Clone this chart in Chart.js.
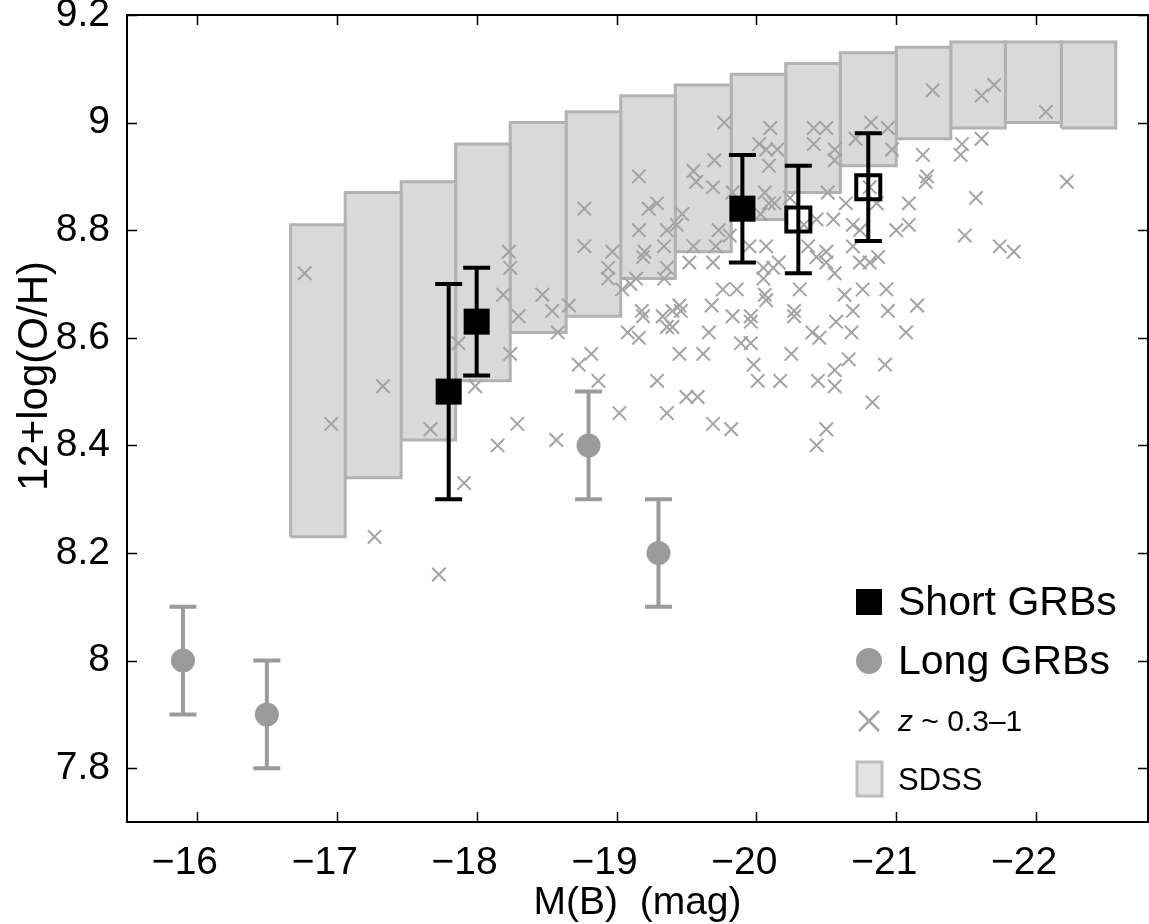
<!DOCTYPE html>
<html>
<head>
<meta charset="utf-8">
<script src="https://cdn.jsdelivr.net/npm/chart.js@4.4.1/dist/chart.umd.min.js"></script>
<style>
  html, body { margin: 0; padding: 0; background: #fff; }
  #wrap { width: 1149px; height: 924px; position: relative; }
</style>
</head>
<body>
<div id="wrap"><canvas id="metalChart"></canvas></div>
<script>
// ==========================================
// M(B) vs 12+log(O/H) — GRB hosts, z~0.3-1 galaxies, SDSS
// ==========================================

const FONT = "'Liberation Sans', Arial, sans-serif";

// axis ticks
const xTicks = [-22, -21, -20, -19, -18, -17, -16];
const yTicks = [7.8, 8, 8.2, 8.4, 8.6, 8.8, 9, 9.2];

// SDSS bins (magnitude edges and metallicity range)
const sdssLeft  = [-16.67, -17.06, -17.46, -17.85, -18.24, -18.64, -19.03, -19.42, -19.82, -20.21, -20.60, -21.00, -21.39, -21.78, -22.18];
const sdssRight = [-17.06, -17.46, -17.85, -18.24, -18.64, -19.03, -19.42, -19.82, -20.21, -20.60, -21.00, -21.39, -21.78, -22.18, -22.57];
const sdssLow   = [8.23, 8.34, 8.41, 8.52, 8.61, 8.64, 8.71, 8.76, 8.82, 8.87, 8.92, 8.97, 8.99, 9.00, 8.99];
const sdssHigh  = [8.81, 8.87, 8.89, 8.96, 9.00, 9.02, 9.05, 9.07, 9.09, 9.11, 9.13, 9.14, 9.15, 9.15, 9.15];

// z ~ 0.3-1 field galaxies
const zX = [
  -16.77, -18.23, -18.24, -18.19, -18.30, -18.47, -18.54, -18.66, -18.77, -18.77,
  -18.97, -18.94, -18.94, -19.04, -19.10, -19.16, -19.23, -19.29, -19.16, -19.20,
  -19.19, -19.36, -19.34, -19.43, -19.36, -19.34, -19.14, -19.18, -19.19, -19.33,
  -19.40, -19.36, -19.40, -19.45, -19.46,
  -16.96, -17.33, -17.67, -17.87, -17.99, -18.24, -17.91, -17.27, -17.73, -18.29,
  -18.15, -18.57, -18.58, -18.73, -18.82, -18.87, -19.02, -19.08, -19.16, -19.29,
  -19.36, -19.45,
  -19.77, -20.10, -20.02, -20.07, -20.15, -20.09, -19.70, -19.55, -19.57, -19.69,
  -19.47, -19.83, -20.06, -20.09, -20.13, -20.03, -20.24, -19.73, -19.81, -19.55,
  -19.71, -19.52, -19.69, -19.95, -20.07, -20.05, -20.12, -20.16, -20.05, -19.76,
  -19.86, -20.06, -20.07, -19.68, -19.83, -19.96, -19.96, -19.66, -20.31, -20.27,
  -20.27, -20.40, -20.57, -20.63, -20.76, -20.69, -20.68, -20.93, -20.94, -21.07,
  -21.15, -20.41, -20.50, -20.41, -20.56, -20.56, -20.71, -20.82, -20.94, -20.97,
  -20.51, -20.64, -20.55, -20.43, -20.34, -20.37, -20.50, -20.50, -20.56, -20.43,
  -20.69, -20.74, -20.69, -20.74, -20.81, -20.87, -20.81, -20.86, -21.09, -21.09,
  -21.00, -21.19, -21.22, -21.21, -21.26, -21.61, -21.70, -22.07, -21.61, -21.47,
  -21.46, -21.57, -21.49, -21.74, -21.84, -22.22,
  -19.62, -19.89, -19.96, -19.98, -20.01, -20.17, -20.25, -20.45, -20.66, -20.56,
  -20.56, -20.44, -20.92, -20.83, -19.50, -19.58, -19.69, -19.82, -20.50, -20.43
];
const zY = [
  8.72, 8.76, 8.73, 8.68, 8.64, 8.68, 8.65, 8.66, 8.84, 8.77,
  8.76, 8.73, 8.71, 8.69, 8.70, 8.90, 8.84, 8.85, 8.80, 8.76,
  8.75, 8.80, 8.77, 8.81, 8.73, 8.71, 8.71, 8.65, 8.64, 8.64,
  8.65, 8.62, 8.62, 8.66, 8.65,
  8.44, 8.51, 8.43, 8.59, 8.51, 8.57, 8.33, 8.23, 8.16, 8.44,
  8.40, 8.41, 8.61, 8.55, 8.57, 8.52, 8.46, 8.61, 8.60, 8.52,
  8.46, 8.57,
  9.00, 8.99, 8.96, 8.95, 8.95, 8.92, 8.93, 8.91, 8.89, 8.88,
  8.83, 8.87, 8.87, 8.85, 8.85, 8.83, 8.86, 8.80, 8.79, 8.77,
  8.77, 8.74, 8.74, 8.77, 8.77, 8.73, 8.73, 8.74, 8.71, 8.69,
  8.69, 8.68, 8.67, 8.66, 8.64, 8.64, 8.63, 8.61, 8.69, 8.65,
  8.64, 8.61, 8.63, 8.68, 8.69, 8.65, 8.61, 8.69, 8.65, 8.61,
  8.66, 8.99, 8.99, 8.96, 8.95, 8.93, 8.97, 9.00, 8.99, 8.95,
  8.87, 8.85, 8.82, 8.82, 8.81, 8.77, 8.76, 8.74, 8.72, 8.75,
  8.81, 8.80, 8.77, 8.74, 8.74, 8.75, 8.88, 8.85, 8.85, 8.81,
  8.80, 8.94, 8.90, 8.89, 9.06, 9.05, 9.07, 9.02, 8.97, 8.96,
  8.94, 8.86, 8.79, 8.77, 8.76, 8.89,
  8.57, 8.59, 8.59, 8.55, 8.52, 8.52, 8.57, 8.60, 8.56, 8.54,
  8.51, 8.52, 8.55, 8.48, 8.49, 8.49, 8.44, 8.43, 8.43, 8.40
];

// short GRB hosts (filled) and the two open squares
const shortX = [-17.8, -18.0, -19.9];
const shortY = [8.5, 8.63, 8.84];
const shortErr = [0.2, 0.1, 0.1];
const openX = [-20.3, -20.8];
const openY = [8.82, 8.88];
const openErr = [0.1, 0.1];

// long GRB hosts
const longX = [-15.9, -16.5, -18.8, -19.3];
const longY = [8.0, 7.9, 8.4, 8.2];
const longErr = [0.1, 0.1, 0.1, 0.1];

const GREY_X = '#a3a3a3';
const GREY_LONG = '#9b9b9b';

function pts(xs, ys) {
    return xs.map((x, i) => ({ x: x, y: ys[i] }));
}

function sdssDatasets() {
    return sdssLeft.map((l, i) => ({
        label: 'SDSS',
        showLine: true,
        data: [
            { x: l, y: sdssLow[i] }, { x: l, y: sdssHigh[i] },
            { x: sdssRight[i], y: sdssHigh[i] }, { x: sdssRight[i], y: sdssLow[i] },
            { x: l, y: sdssLow[i] }
        ],
        borderColor: '#b2b2b2', borderWidth: 3, backgroundColor: '#d9d9d9',
        fill: 'shape', pointRadius: 0, pointHoverRadius: 0, tension: 0,
        order: 3
    }));
}

// error bars, drawn right after the crosses so markers sit on top
const errorBars = {
    id: 'errorBars',
    afterDatasetDraw(chart, args) {
        if (chart.data.datasets[args.index].label !== 'z') return;
        const { ctx, scales: { x, y } } = chart;
        const groups = [
            [longX, longY, longErr, GREY_LONG],
            [shortX, shortY, shortErr, '#000'],
            [openX, openY, openErr, '#000']
        ];
        ctx.save();
        ctx.lineWidth = 4;
        groups.forEach(([xs, ys, es, col]) => {
            ctx.strokeStyle = col;
            xs.forEach((v, i) => {
                const px = x.getPixelForValue(v);
                const top = y.getPixelForValue(ys[i] + es[i]);
                const bot = y.getPixelForValue(ys[i] - es[i]);
                ctx.beginPath();
                ctx.moveTo(px, top); ctx.lineTo(px, bot);
                ctx.moveTo(px - 13.5, top); ctx.lineTo(px + 13.5, top);
                ctx.moveTo(px - 13.5, bot); ctx.lineTo(px + 13.5, bot);
                ctx.stroke();
            });
        });
        ctx.restore();
    }
};

// box around the axes with inward ticks (matlab style) + axis titles
const frame = {
    id: 'frame',
    afterDraw(chart) {
        const { ctx, chartArea: a, scales: { x, y } } = chart;
        ctx.save();
        ctx.strokeStyle = '#000';
        ctx.lineWidth = 1.5;
        xTicks.forEach(v => {
            const px = Math.round(x.getPixelForValue(v)) + 0.5;
            ctx.beginPath();
            ctx.moveTo(px, a.bottom); ctx.lineTo(px, a.bottom - 10);
            ctx.moveTo(px, a.top); ctx.lineTo(px, a.top + 10);
            ctx.stroke();
        });
        yTicks.forEach(v => {
            const py = Math.round(y.getPixelForValue(v)) + 0.5;
            ctx.beginPath();
            ctx.moveTo(a.left, py); ctx.lineTo(a.left + 10, py);
            ctx.moveTo(a.right, py); ctx.lineTo(a.right - 10, py);
            ctx.stroke();
        });
        ctx.lineWidth = 2;
        ctx.strokeRect(a.left, a.top, a.right - a.left, a.bottom - a.top);

        ctx.fillStyle = '#000';
        ctx.font = '39px ' + FONT;
        ctx.textAlign = 'center';
        ctx.textBaseline = 'alphabetic';
        ctx.fillText('M(B)  (mag)', (a.left + a.right) / 2, 914);
        ctx.font = '42px ' + FONT;
        ctx.translate(47, 376);
        ctx.rotate(-Math.PI / 2);
        ctx.fillText('12+log(O/H)', 0, 0);
        ctx.restore();
    }
};

// legend in the lower right corner
const legendBox = {
    id: 'legendBox',
    afterDraw(chart) {
        const ctx = chart.ctx;
        const mx = 869, tx = 898;
        ctx.save();
        ctx.fillStyle = '#000';
        ctx.fillRect(mx - 13, 589, 26, 26);
        ctx.fillStyle = GREY_LONG;
        ctx.beginPath(); ctx.arc(mx, 661, 13, 0, Math.PI * 2); ctx.fill();
        ctx.strokeStyle = GREY_X; ctx.lineWidth = 2.5;
        ctx.beginPath();
        ctx.moveTo(mx - 10, 711); ctx.lineTo(mx + 10, 731);
        ctx.moveTo(mx - 10, 731); ctx.lineTo(mx + 10, 711);
        ctx.stroke();
        ctx.fillStyle = '#e4e4e4'; ctx.strokeStyle = '#bcbcbc'; ctx.lineWidth = 3;
        ctx.fillRect(857, 762, 25, 34); ctx.strokeRect(857, 762, 25, 34);

        ctx.fillStyle = '#000';
        ctx.textBaseline = 'alphabetic';
        ctx.font = '41px ' + FONT;
        ctx.fillText('Short GRBs', tx, 615);
        ctx.fillText('Long GRBs', tx, 674);
        ctx.font = 'italic 30px ' + FONT;
        ctx.fillText('z', tx, 731);
        const zw = ctx.measureText('z').width;
        ctx.font = '30px ' + FONT;
        ctx.fillText(' ~ 0.3\u20131', tx + zw, 731);
        ctx.font = '31px ' + FONT;
        ctx.fillText('SDSS', tx, 790);
        ctx.restore();
    }
};

function fmtX(v) {
    return v < 0 ? '\u2212' + Math.abs(v) : String(v);
}

function initChart() {
    const ctx = document.getElementById('metalChart');
    new Chart(ctx, {
        type: 'scatter',
        data: {
            datasets: [
                {
                    label: 'Short GRBs', data: pts(shortX, shortY),
                    pointStyle: 'rect', pointRadius: 18.4, pointHoverRadius: 18.4,
                    backgroundColor: '#000', borderColor: '#000', borderWidth: 0, order: 1
                },
                {
                    label: 'Short GRBs (open)', data: pts(openX, openY),
                    pointStyle: 'rect', pointRadius: 17, pointHoverRadius: 17,
                    backgroundColor: 'rgba(0,0,0,0)', borderColor: '#000', borderWidth: 4, order: 1
                },
                {
                    label: 'Long GRBs', data: pts(longX, longY),
                    pointStyle: 'circle', pointRadius: 12, pointHoverRadius: 12,
                    backgroundColor: GREY_LONG, borderColor: GREY_LONG, borderWidth: 0, order: 1
                },
                {
                    label: 'z', data: pts(zX, zY),
                    pointStyle: 'crossRot', pointRadius: 9.5, pointHoverRadius: 9.5,
                    borderColor: GREY_X, borderWidth: 2, order: 2
                },
                ...sdssDatasets()
            ]
        },
        options: {
            responsive: true, maintainAspectRatio: false, animation: false,
            layout: { autoPadding: false, padding: { left: 0, top: 15, right: 1, bottom: 0 } },
            plugins: { legend: { display: false }, tooltip: { enabled: false } },
            scales: {
                x: {
                    type: 'linear', reverse: true, min: -22.8, max: -15.5,
                    grid: { display: false }, border: { display: false },
                    afterBuildTicks: s => { s.ticks = xTicks.map(v => ({ value: v })); },
                    afterFit: s => { s.height = 102; s.paddingLeft = 0; s.paddingRight = 0; },
                    ticks: {
                        font: { family: FONT, size: 39 }, color: '#000', padding: 10,
                        labelOffset: -12, maxRotation: 0, autoSkip: false, callback: fmtX
                    }
                },
                y: {
                    type: 'linear', min: 7.7, max: 9.2,
                    grid: { display: false }, border: { display: false },
                    afterBuildTicks: s => { s.ticks = yTicks.map(v => ({ value: v })); },
                    afterFit: s => { s.width = 127; s.paddingTop = 0; s.paddingBottom = 0; },
                    ticks: {
                        font: { family: FONT, size: 39 }, color: '#000', padding: 9,
                        callback: v => String(Math.round(v * 10) / 10)
                    }
                }
            }
        },
        plugins: [errorBars, frame, legendBox]
    });
}

document.addEventListener('DOMContentLoaded', initChart);
</script>
</body>
</html>
